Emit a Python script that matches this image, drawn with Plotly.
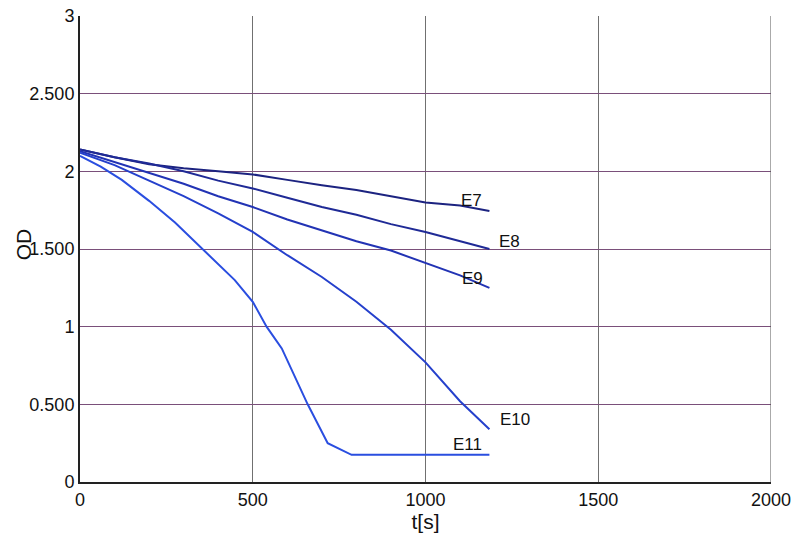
import plotly.graph_objects as go

# Optical density decay curves for runs E7..E11
t_e7 = [0, 100, 200, 300, 400, 500, 600, 700, 800, 900, 1000, 1100, 1185]
od_e7 = [2.14, 2.09, 2.045, 2.02, 2.00, 1.98, 1.945, 1.91, 1.88, 1.84, 1.80, 1.78, 1.745]

t_e8 = [0, 100, 200, 300, 400, 500, 600, 700, 800, 900, 1000, 1100, 1185]
od_e8 = [2.14, 2.09, 2.05, 2.00, 1.94, 1.89, 1.83, 1.77, 1.72, 1.66, 1.61, 1.55, 1.50]

t_e9 = [0, 100, 200, 300, 400, 500, 600, 700, 800, 900, 1000, 1100, 1185]
od_e9 = [2.13, 2.06, 1.99, 1.92, 1.84, 1.77, 1.69, 1.62, 1.55, 1.49, 1.41, 1.33, 1.25]

t_e10 = [0, 100, 200, 300, 400, 500, 600, 700, 800, 900, 1000, 1100, 1185]
od_e10 = [2.12, 2.04, 1.94, 1.84, 1.73, 1.61, 1.46, 1.32, 1.16, 0.98, 0.77, 0.52, 0.34]

t_e11 = [0, 60, 121, 200, 275, 360, 448, 500, 540, 584, 659, 717, 786, 900, 1000, 1100, 1185]
od_e11 = [2.10, 2.03, 1.945, 1.81, 1.67, 1.49, 1.30, 1.16, 1.00, 0.86, 0.50, 0.25, 0.175, 0.175, 0.175, 0.175, 0.175]

series_names = ["E7", "E8", "E9", "E10", "E11"]
series_t = [t_e7, t_e8, t_e9, t_e10, t_e11]
series_od = [od_e7, od_e8, od_e9, od_e10, od_e11]
series_colors = ["#1c2380", "#1f2a96", "#2233b4", "#2540cc", "#2a4ee0"]

# label anchor positions (data coords)
label_t = [1133, 1243, 1136, 1260, 1121]
label_od = [1.81, 1.55, 1.31, 0.40, 0.24]

x_ticks = [0, 500, 1000, 1500, 2000]
y_ticks = [0, 0.5, 1, 1.5, 2, 2.5, 3]
y_ticklabels = ["0", "0.500", "1", "1.500", "2", "2.500", "3"]

FONT = "Liberation Sans, Arial"

fig = go.Figure()
for name, t, od, c in zip(series_names, series_t, series_od, series_colors):
    fig.add_trace(go.Scatter(x=t, y=od, mode="lines", name=name,
                             line=dict(color=c, width=2), showlegend=False))

for name, lt, lo in zip(series_names, label_t, label_od):
    fig.add_annotation(x=lt, y=lo, text=name, showarrow=False,
                       font=dict(size=17, color="#111111", family=FONT),
                       xanchor="center", yanchor="middle")

# y-axis title placed by hand so it can sit close to the tick labels
fig.add_annotation(xref="paper", yref="paper", x=0, y=0.51, xshift=-57,
                   text="OD", textangle=-90, showarrow=False,
                   font=dict(size=21, color="#111111", family=FONT),
                   xanchor="center", yanchor="middle")

fig.update_layout(
    width=793, height=539,
    margin=dict(l=80, r=22, t=16, b=57),
    paper_bgcolor="white", plot_bgcolor="white",
    font=dict(family=FONT, size=18, color="#111111"),
    xaxis=dict(range=[0, 2000], tickvals=x_ticks, showgrid=True,
               gridcolor="#707070", gridwidth=1, zeroline=False,
               showline=True, linecolor="#222222", linewidth=2, mirror=False,
               ticks="", ticklen=0, automargin=False,
               tickfont=dict(size=18),
               title=dict(text="t[s]", font=dict(size=21), standoff=4)),
    yaxis=dict(range=[0, 3], tickvals=y_ticks, ticktext=y_ticklabels,
               showgrid=True, gridcolor="#7a4f7a", gridwidth=1, zeroline=False,
               showline=True, linecolor="#222222", linewidth=2,
               ticks="", ticklen=0, automargin=False,
               tickfont=dict(size=18)),
)
# right border of the plot box
fig.add_shape(type="line", xref="x", yref="paper", x0=2000, x1=2000, y0=0, y1=1,
              line=dict(color="#555555", width=1))

fig.write_html("out.html")
